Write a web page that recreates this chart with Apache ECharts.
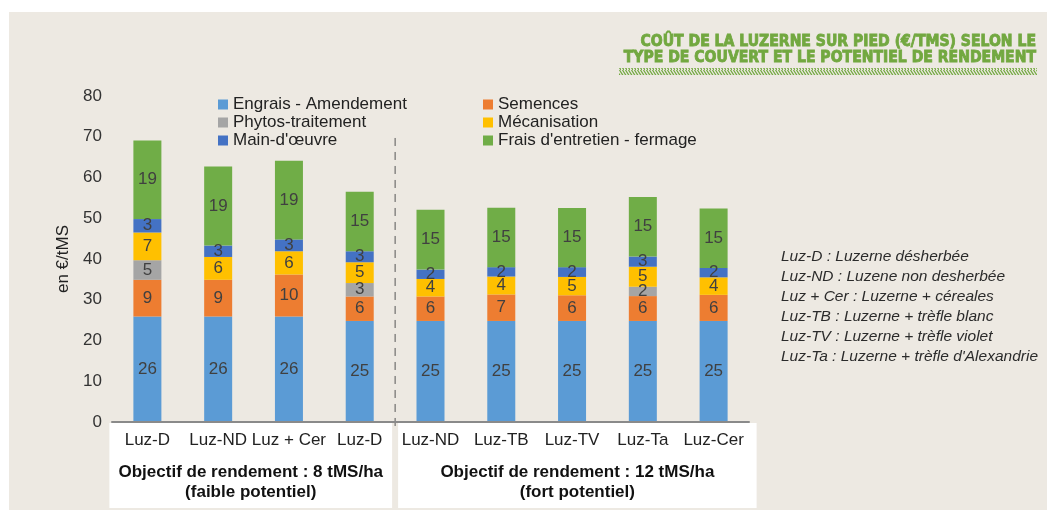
<!DOCTYPE html>
<html>
<head>
<meta charset="utf-8">
<script src="https://cdn.jsdelivr.net/npm/echarts@6/dist/echarts.min.js"></script>
<style>
  html, body { margin: 0; padding: 0; background: #fff; }
  #main { width: 1047px; height: 515px; }
</style>
</head>
<body>
<div id="main"></div>
<script>
// data (€/tMS)
var categories = ['Luz-D', 'Luz-ND', 'Luz + Cer', 'Luz-D', 'Luz-ND', 'Luz-TB', 'Luz-TV', 'Luz-Ta', 'Luz-Cer'];
var engrais = [25.9, 25.9, 25.9, 24.8, 24.8, 24.8, 24.8, 24.8, 24.8];
var semences = [9.0, 9.0, 10.3, 6.0, 6.0, 6.5, 6.3, 6.1, 6.4];
var phytos = [4.8, null, null, 3.3, null, null, null, 2.3, null];
var mecanisation = [6.8, 5.6, 5.7, 5.1, 4.3, 4.4, 4.5, 4.9, 4.3];
var mainOeuvre = [3.3, 2.8, 2.9, 2.7, 2.3, 2.3, 2.4, 2.5, 2.3];
var frais = [19.3, 19.4, 19.3, 14.6, 14.7, 14.6, 14.5, 14.6, 14.6];
var yTicks = [0, 10, 20, 30, 40, 50, 60, 70, 80];

var groupLabels = ['Objectif de rendement : 8 tMS/ha\n(faible potentiel)', 'Objectif de rendement : 12 tMS/ha\n(fort potentiel)'];
var notes = [
  'Luz-D : Luzerne désherbée',
  'Luz-ND : Luzene non desherbée',
  'Luz + Cer : Luzerne + céreales',
  'Luz-TB : Luzerne + trèfle blanc',
  'Luz-TV : Luzerne + trèfle violet',
  'Luz-Ta : Luzerne + trèfle d\'Alexandrie'
];

var FONT = 'Liberation Sans';
var GREEN_TITLE = '#72a840';

// small hatch tile for the underline of the title
var tile = document.createElement('canvas');
tile.width = 3; tile.height = 7;
var ctx = tile.getContext('2d');
ctx.strokeStyle = GREEN_TITLE;
ctx.lineWidth = 1.3;
ctx.beginPath();
ctx.moveTo(-1.5, 0); ctx.lineTo(3, 7);
ctx.moveTo(1.5, 0); ctx.lineTo(6, 7);
ctx.stroke();

function stack(name, data, color) {
  return {
    name: name,
    type: 'bar',
    stack: 'total',
    barWidth: 28,
    data: data,
    itemStyle: { color: color },
    label: {
      show: true,
      position: 'inside',
      color: '#404040',
      fontFamily: FONT,
      fontSize: 17,
      formatter: function (p) { return p.value == null ? '' : Math.round(p.value); }
    }
  };
}

var chartDom = document.getElementById('main');
var myChart = echarts.init(chartDom);

var legendText = { color: '#222', fontFamily: FONT, fontSize: 17 };

var option = {
  backgroundColor: '#fff',
  animation: false,
  grid: { left: 112, top: 96, width: 637, height: 326 },
  legend: [
    {
      orient: 'vertical', left: 213, top: 91, itemWidth: 10, itemHeight: 10, itemGap: 1,
      icon: 'rect', textStyle: legendText,
      data: ['Engrais - Amendement', 'Phytos-traitement', "Main-d'œuvre"]
    },
    {
      orient: 'vertical', left: 478, top: 91, itemWidth: 10, itemHeight: 10, itemGap: 1,
      icon: 'rect', textStyle: legendText,
      data: ['Semences', 'Mécanisation', "Frais d'entretien - fermage"]
    }
  ],
  xAxis: {
    type: 'category',
    data: categories,
    axisLine: { lineStyle: { color: '#8a8a8a', width: 2 } },
    axisTick: { show: false },
    axisLabel: { color: '#222', fontFamily: FONT, fontSize: 17, margin: 10, interval: 0 },
    z: 5
  },
  yAxis: {
    type: 'value',
    min: yTicks[0],
    max: yTicks[yTicks.length - 1],
    interval: yTicks[1] - yTicks[0],
    name: 'en €/tMS',
    nameLocation: 'middle',
    nameGap: 32,
    nameTextStyle: { color: '#222', fontFamily: FONT, fontSize: 17 },
    axisLine: { show: false },
    axisTick: { show: false },
    splitLine: { show: false },
    axisLabel: { color: '#333', fontFamily: FONT, fontSize: 17, margin: 10 }
  },
  series: [
    stack('Engrais - Amendement', engrais, '#5b9bd5'),
    stack('Semences', semences, '#ed7d31'),
    stack('Phytos-traitement', phytos, '#a5a5a5'),
    stack('Mécanisation', mecanisation, '#ffc000'),
    stack("Main-d'œuvre", mainOeuvre, '#4472c4'),
    stack("Frais d'entretien - fermage", frais, '#70ad47')
  ]
};
myChart.setOption(option);

// boundary between the two groups, placed through the axes
var p3 = myChart.convertToPixel({ xAxisIndex: 0 }, 3);
var p4 = myChart.convertToPixel({ xAxisIndex: 0 }, 4);
var xSep = (p3 + p4) / 2;
var yTop = myChart.convertToPixel({ yAxisIndex: 0 }, 69.7);
var yZero = myChart.convertToPixel({ yAxisIndex: 0 }, 0);
var x0 = myChart.convertToPixel({ xAxisIndex: 0 }, 0) - 38;
var x8 = myChart.convertToPixel({ xAxisIndex: 0 }, 8) + 43;

myChart.setOption({
  graphic: [
    { type: 'rect', z: -10, silent: true, shape: { x: 9, y: 12, width: 1038, height: 498 }, style: { fill: '#ede9e2' } },
    { type: 'rect', z: -5, silent: true, shape: { x: x0, y: yZero + 1, width: xSep - 3 - x0, height: 85 }, style: { fill: '#fff' } },
    { type: 'rect', z: -5, silent: true, shape: { x: xSep + 3, y: yZero + 1, width: x8 - xSep - 3, height: 85 }, style: { fill: '#fff' } },
    { type: 'line', z: 1, silent: true, shape: { x1: xSep, y1: yTop, x2: xSep, y2: yZero + 5 },
      style: { stroke: '#555', lineWidth: 1, lineDash: [8, 6] } },
    { type: 'text', z: 6,
      style: { x: x0 + (xSep - 3 - x0) / 2, y: 462, text: groupLabels[0], align: 'center', verticalAlign: 'top',
        fill: '#111', font: 'bold 17px "' + FONT + '"', lineHeight: 20 } },
    { type: 'text', z: 6,
      style: { x: xSep + 3 + (x8 - xSep - 3) / 2, y: 462, text: groupLabels[1], align: 'center', verticalAlign: 'top',
        fill: '#111', font: 'bold 17px "' + FONT + '"', lineHeight: 20 } },
    { type: 'text',
      style: { x: 781, y: 247, text: notes.join('\n'), fill: '#2b2b2b', font: 'italic 15.5px "' + FONT + '"', lineHeight: 20 } },
    { type: 'text',
      style: { x: 1036, y: 34, text: 'COÛT DE LA LUZERNE SUR PIED (€/TMS) SELON LE\nTYPE DE COUVERT ET LE POTENTIEL DE RENDEMENT',
        align: 'right', verticalAlign: 'top', fill: GREEN_TITLE, stroke: GREEN_TITLE, lineWidth: 0.8,
        font: 'bold 15.6px "DejaVu Sans Condensed"', lineHeight: 16 } },
    { type: 'rect', silent: true, shape: { x: 619, y: 68, width: 418, height: 7 },
      style: { fill: { image: tile, repeat: 'repeat' } } }
  ]
});
</script>
</body>
</html>
